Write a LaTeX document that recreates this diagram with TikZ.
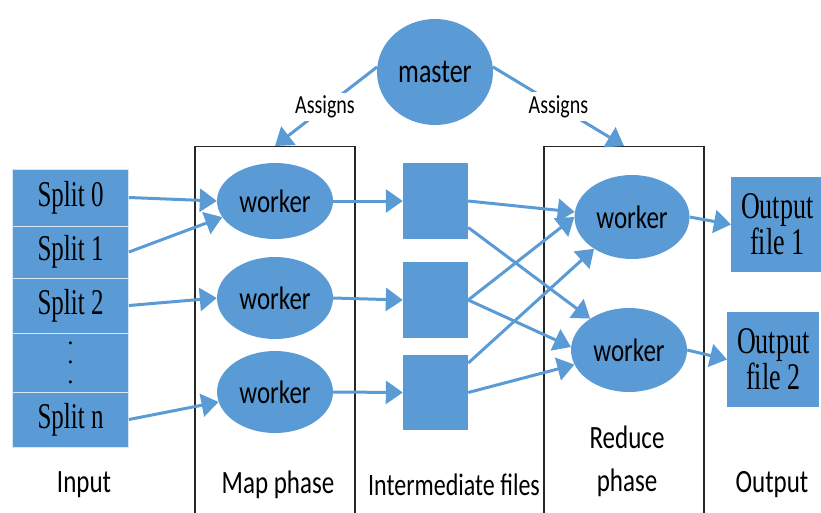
\documentclass[tikz,border=0pt]{standalone}
\usepackage{fontspec}
\setmainfont{Liberation Serif}
\newfontfamily\calfnt{Carlito}
\usetikzlibrary{arrows.meta,shapes.geometric}
\definecolor{mblue}{RGB}{91,155,213}
\newcommand{\vstr}[1]{\scalebox{1}[1.3]{#1}}
\newcommand{\vstrt}[1]{\scalebox{1}[1.45]{#1}}
\tikzset{
  blob/.style={ellipse,fill=mblue,inner sep=0pt,minimum width=116pt,minimum height=78pt,font=\calfnt\fontsize{25}{30}\selectfont},
  ifile/.style={rectangle,fill=mblue,inner sep=0pt,minimum width=65pt,minimum height=76pt},
  splitbox/.style={rectangle,fill=mblue,draw=white!75!mblue,line width=0.8pt,inner sep=0pt,minimum width=116pt,font=\fontsize{25}{30}\selectfont},
  outbox/.style={rectangle,fill=mblue,inner sep=0pt,minimum width=92pt,minimum height=95pt,align=center,font=\fontsize{26}{36}\selectfont},
  phasebox/.style={rectangle,draw=black!85,line width=1.1pt,minimum width=160pt,minimum height=400pt,inner sep=0pt},
  lab/.style={font=\calfnt\fontsize{25}{30}\selectfont,inner sep=0pt},
  arr/.style={draw=mblue,line width=3pt,-{Triangle[length=17pt,width=23pt]}},
}
\begin{document}
\begin{tikzpicture}[x=1pt,y=-1pt]
\path[use as bounding box] (0,0) rectangle (821,512);
% phase frames
\node[phasebox,anchor=north] (mapbox) at (275,146) {};
\node[phasebox,anchor=north] (redbox) at (624,146) {};
% input splits
\node[splitbox,minimum height=57pt] (s0) at (70.5,197.5) {\vstrt{Split 0}};
\node[splitbox,minimum height=52pt] (s1) at (70.5,252) {\vstrt{Split 1}};
\node[splitbox,minimum height=55pt] (s2) at (70.5,305.5) {\vstrt{Split 2}};
\node[splitbox,minimum height=59pt,align=center,font=\fontsize{25}{19.5}\selectfont] (sd) at (70.5,362.5) {.\\.\\.};
\node[splitbox,minimum height=55pt] (sn) at (70.5,419.5) {\vstrt{Split n}};
% master
\node[ellipse,fill=mblue,minimum width=116pt,minimum height=106pt,inner sep=0pt,font=\calfnt\fontsize{26}{30}\selectfont] (master) at (435,72) {\vstr{master}};
% map workers
\node[blob,minimum height=76pt] (w1) at (275,201) {\vstr{worker}};
\node[blob,minimum height=82pt] (w2) at (275,298) {\vstr{worker}};
\node[blob,minimum height=82pt] (w3) at (275,392) {\vstr{worker}};
% intermediate files
\node[ifile] (r1) at (435.5,201) {};
\node[ifile] (r2) at (435.5,300) {};
\node[ifile,minimum height=75pt] (r3) at (435.5,392.5) {};
% reduce workers
\node[blob,minimum width=115pt,minimum height=84pt] (rw1) at (632,217) {\vstr{worker}};
\node[blob,minimum height=84pt] (rw2) at (629,350) {\vstr{worker}};
% outputs
\node[outbox,anchor=west] (o1) at (731,224.5) {\vstrt{Output}\\\vstrt{file 1}};
\node[outbox,anchor=west] (o2) at (727,359.5) {\vstrt{Output}\\\vstrt{file 2}};
% bottom labels
\node[lab] (tin) at (84,485) {\vstr{Input}};
\node[lab] (tmap) at (278,485) {\vstr{Map phase}};
\node[lab,font=\calfnt\fontsize{24}{30}\selectfont] (tint) at (454,485) {\vstr{Intermediate files}};
\node[lab] (tred1) at (627,437) {\vstr{Reduce}};
\node[lab] (tred2) at (627,483) {\vstr{phase}};
\node[lab] (tout) at (772,485) {\vstr{Output}};
% assigns
\draw[arr] (master.175) -- node[pos=0.51,fill=white,inner sep=3pt,font=\calfnt\fontsize{20}{24}\selectfont] {\vstr{Assigns}} (mapbox.north);
\draw[arr] (master.5) -- node[pos=0.5,fill=white,inner sep=3pt,font=\calfnt\fontsize{20}{24}\selectfont] {\vstr{Assigns}} (redbox.north);
% input -> map
\draw[arr] (s0.east) -- (w1.west);
\draw[arr] (s1.east) -- (w1.197);
\draw[arr] (s2.east) -- (w2.west);
\draw[arr] (sn.east) -- (w3.190);
% map -> intermediate
\draw[arr] (w1.east) -- (r1.west);
\draw[arr] (w2.east) -- (r2.west);
\draw[arr] (w3.east) -- (r3.west);
% intermediate -> reduce
\draw[arr] (r1.east) -- (rw1.175);
\draw[arr] (r1.-39) -- (rw2.141);
\draw[arr] (r2.east) -- (rw1.west);
\draw[arr] (r2.east) -- (rw2.177);
\draw[arr] (r3.42) -- (rw1.220);
\draw[arr] (r3.east) -- (rw2.195);
% reduce -> output
\draw[arr] (rw1.east) -- (o1.west);
\draw[arr] (rw2.east) -- (o2.west);
\end{tikzpicture}
\end{document}
